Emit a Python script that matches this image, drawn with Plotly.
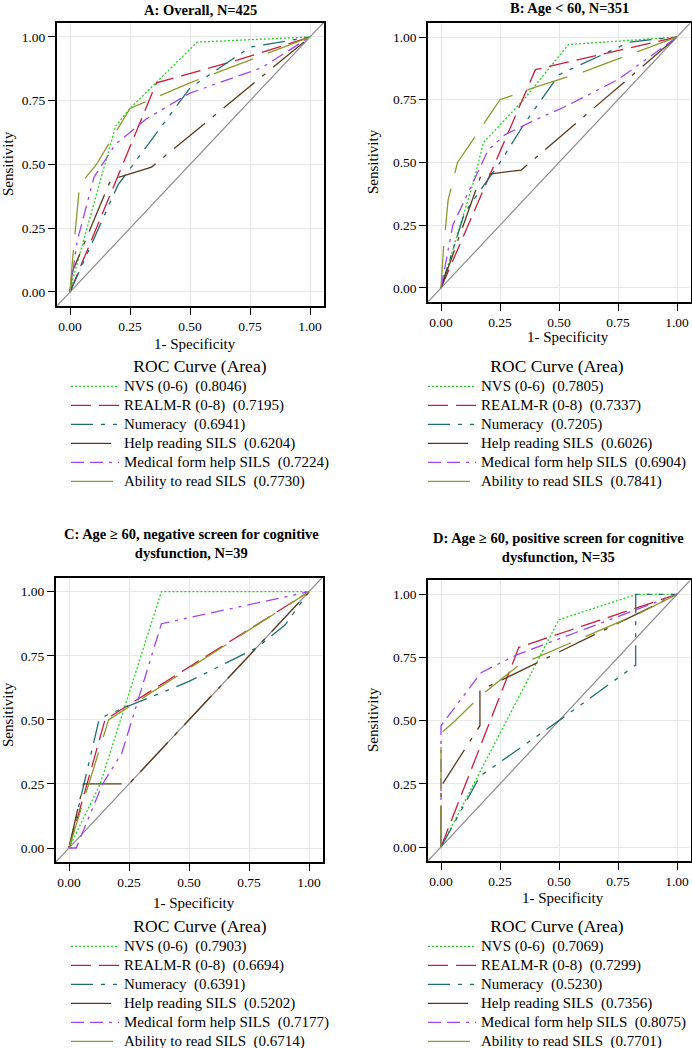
import plotly.graph_objects as go

W, H = 692, 1048
FONT = "Liberation Serif"

SERIES = ["NVS (0-6)", "REALM-R (0-8)", "Numeracy", "Help reading SILS",
          "Medical form help SILS", "Ability to read SILS"]
COLORS = ["#22d422", "#c81e3c", "#1f6f6f", "#5a3a1c", "#a044f0", "#8c9a2c"]
DASHES = ["2px,2px", "20px,8px", "22px,8px,4px,8px,4px,8px", "40px,10px,4px,10px",
          "13px,6px,13px,6px,3px,6px,3px,6px", "42px,16px"]

PANEL_TITLES = ["<b>A: Overall, N=425</b>", "<b>B: Age < 60, N=351</b>",
                "<b>C: Age ≥ 60, negative screen for cognitive<br>dysfunction, N=39</b>",
                "<b>D: Age ≥ 60, positive screen for cognitive<br>dysfunction, N=35</b>"]
TICKS = [0, 0.25, 0.5, 0.75, 1.0]
TICK_LABELS = ["0.00", "0.25", "0.50", "0.75", "1.00"]

# ---- Panel A: Overall ----
A_FPR = [[0, 0.02, 0.19, 0.25, 0.53, 1],
         [0, 0.36, 0.7, 1],
         [0, 0.2, 0.5, 0.75, 1],
         [0, 0.01, 0.17, 0.34, 1],
         [0, 0.03, 0.1, 0.19, 0.32, 0.5, 0.8, 1],
         [0, 0.01, 0.04, 0.11, 0.25, 0.5, 1]]
A_TPR = [[0, 0.08, 0.65, 0.72, 0.98, 1],
         [0, 0.82, 0.91, 1],
         [0, 0.42, 0.8, 0.96, 1],
         [0, 0.08, 0.44, 0.49, 1],
         [0, 0.2, 0.45, 0.58, 0.68, 0.78, 0.88, 1],
         [0, 0.12, 0.42, 0.5, 0.72, 0.82, 1]]
A_AREA = ["0.8046", "0.7195", "0.6941", "0.6204", "0.7224", "0.7730"]

# ---- Panel B: Age < 60 ----
B_FPR = [[0, 0.02, 0.14, 0.18, 0.35, 0.54, 1],
         [0, 0.4, 1],
         [0, 0.1, 0.25, 0.35, 0.5, 0.8, 1],
         [0, 0.17, 0.34, 1],
         [0, 0.05, 0.2, 0.27, 0.4, 0.52, 0.75, 1],
         [0, 0.01, 0.03, 0.07, 0.25, 0.4, 0.6, 1]]
B_TPR = [[0, 0.06, 0.43, 0.58, 0.75, 0.97, 1],
         [0, 0.87, 1],
         [0, 0.3, 0.5, 0.65, 0.85, 0.98, 1],
         [0, 0.45, 0.47, 1],
         [0, 0.25, 0.55, 0.61, 0.67, 0.72, 0.83, 1],
         [0, 0.15, 0.35, 0.5, 0.75, 0.8, 0.86, 1]]
B_AREA = ["0.7805", "0.7337", "0.7205", "0.6026", "0.6904", "0.7841"]

# ---- Panel C: Age >= 60, negative screen ----
C_FPR = [[0, 0.13, 0.385, 1],
         [0, 0.15, 1],
         [0, 0.125, 0.16, 0.5, 0.78, 0.9, 1],
         [0, 0.06, 0.25, 1],
         [0, 0.03, 0.14, 0.22, 0.385, 1],
         [0, 0.165, 1]]
C_TPR = [[0, 0.25, 1, 1],
         [0, 0.5, 1],
         [0, 0.5, 0.52, 0.65, 0.78, 0.87, 1],
         [0, 0.25, 0.25, 1],
         [0, 0, 0.25, 0.37, 0.875, 1],
         [0, 0.5, 1]]
C_AREA = ["0.7903", "0.6694", "0.6391", "0.5202", "0.7177", "0.6714"]

# ---- Panel D: Age >= 60, positive screen ----
D_FPR = [[0, 0.5, 0.83, 1],
         [0, 0.33, 1],
         [0, 0.165, 0.5, 0.825, 0.825, 1],
         [0, 0, 0.165, 0.165, 0.3, 0.83, 1],
         [0, 0, 0.17, 0.32, 0.83, 1],
         [0, 0, 0.06, 0.17, 0.33, 0.83, 1]]
D_TPR = [[0, 0.9, 1, 1],
         [0, 0.79, 1],
         [0, 0.28, 0.5, 0.72, 1, 1],
         [0, 0.24, 0.48, 0.62, 0.68, 0.92, 1],
         [0, 0.48, 0.69, 0.76, 0.94, 1],
         [0, 0.45, 0.5, 0.6, 0.72, 0.92, 1]]
D_AREA = ["0.7069", "0.7299", "0.5230", "0.7356", "0.8075", "0.7701"]

XR = [-0.055, 1.06]
YR = [-0.055, 1.055]

# pixel positions of the 0 and 1 ticks for each panel (x0, x1, y0, y1)
PANEL_PX = [(70, 310, 292, 37), (441, 677, 288, 37), (69, 309, 848, 591.7), (441, 677, 847, 594.3)]

panels = [(A_FPR, A_TPR, A_AREA), (B_FPR, B_TPR, B_AREA), (C_FPR, C_TPR, C_AREA), (D_FPR, D_TPR, D_AREA)]

fig = go.Figure()
layout = {}
annotations = []

title_pos = [(200, 10), (569, 8), (192, 543), (558, 547)]
ylab_pos = [(8, 164), (373, 162), (8, 715), (373, 720)]
xlab_pos = [(195, 344), (568, 337), (194, 903), (563, 898)]
legend_pos = [(66, 355), (423, 355), (66, 915), (423, 915)]

LEG_FONT = 11.9    # sets row spacing
ITEM_PX = 15       # visible item text size
LEG_TITLE_FONT = 13
LEG_TITLE_PX = 17.5

for i, (fpr, tpr, area) in enumerate(panels):
    sfx = "" if i == 0 else str(i + 1)
    xa, ya = "x" + sfx, "y" + sfx
    lg = "legend" + sfx
    x0, x1, y0, y1 = PANEL_PX[i]
    ppx = x1 - x0
    ppy = y0 - y1
    left = x0 + XR[0] * ppx
    right = min(x0 + XR[1] * ppx, W - 1)
    bottom = y0 - YR[0] * ppy
    top = y0 - YR[1] * ppy
    xdom = [left / W, right / W]
    ydom = [1 - bottom / H, 1 - top / H]
    xr = [XR[0], (right - x0) / ppx]

    # reference diagonal
    fig.add_trace(go.Scatter(x=[-0.2, 1.2], y=[-0.2, 1.2], mode="lines",
                             line=dict(color="#8c8c8c", width=1.2),
                             xaxis=xa, yaxis=ya, showlegend=False, hoverinfo="skip"))
    for k in range(6):
        fig.add_trace(go.Scatter(
            x=fpr[k], y=tpr[k], mode="lines",
            name=f'<span style="font-size:{ITEM_PX}px">{SERIES[k]}\u00a0 ({area[k]})</span>',
            line=dict(color=COLORS[k], width=1.3, dash=DASHES[k]),
            xaxis=xa, yaxis=ya, legend=lg))

    axcommon = dict(showline=True, mirror=True, linecolor="black", linewidth=1.5,
                    showgrid=True, gridcolor="#e8e8e8", gridwidth=1,
                    zeroline=False, ticks="outside", ticklen=7, tickwidth=1.2,
                    tickcolor="black", tickvals=TICKS, ticktext=TICK_LABELS,
                    automargin=False,
                    tickfont=dict(family=FONT, size=13.5, color="black"))
    layout["xaxis" + sfx] = dict(domain=xdom, range=xr, anchor=ya, **axcommon)
    layout["yaxis" + sfx] = dict(domain=ydom, range=YR, anchor=xa, **axcommon)

    lx, ly = legend_pos[i]
    layout[lg] = dict(x=lx / W, y=1 - ly / H, xanchor="left", yanchor="top",
                      xref="paper", yref="paper",
                      bgcolor="rgba(0,0,0,0)", borderwidth=0,
                      font=dict(family=FONT, size=LEG_FONT, color="black"),
                      title=dict(text=f'<span style="font-size:{LEG_TITLE_PX}px">ROC Curve (Area)</span>',
                                 side="top center",
                                 font=dict(family=FONT, size=LEG_TITLE_FONT, color="black")),
                      tracegroupgap=0, itemwidth=48)

    tx, ty = title_pos[i]
    annotations.append(dict(text=PANEL_TITLES[i], x=tx / W, y=1 - ty / H, xref="paper", yref="paper",
                            showarrow=False, xanchor="center", yanchor="middle",
                            font=dict(family=FONT, size=14.5, color="black")))
    yx, yy = ylab_pos[i]
    annotations.append(dict(text="Sensitivity", x=yx / W, y=1 - yy / H, xref="paper", yref="paper",
                            showarrow=False, xanchor="center", yanchor="middle", textangle=-90,
                            font=dict(family=FONT, size=15, color="black")))
    xx, xy = xlab_pos[i]
    annotations.append(dict(text="1- Specificity", x=xx / W, y=1 - xy / H, xref="paper", yref="paper",
                            showarrow=False, xanchor="center", yanchor="middle",
                            font=dict(family=FONT, size=15, color="black")))

fig.update_layout(width=W, height=H, margin=dict(l=0, r=0, t=0, b=0, autoexpand=False),
                  paper_bgcolor="white", plot_bgcolor="white",
                  annotations=annotations, **layout)
fig.write_html("out.html", config={"displayModeBar": False},
               post_script="document.body.style.margin='0px';document.body.style.overflow='hidden';")
